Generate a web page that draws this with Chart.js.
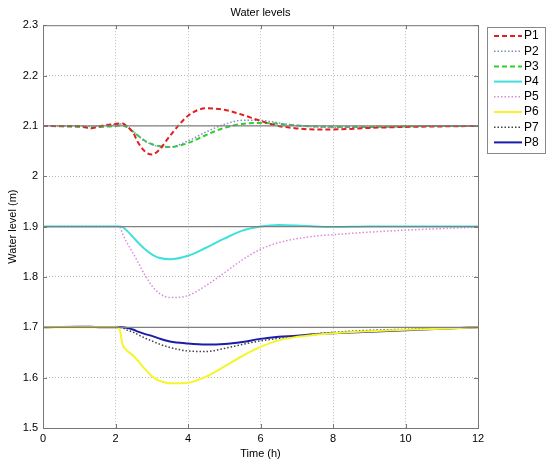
<!DOCTYPE html>
<html>
<head>
<meta charset="utf-8">
<script src="https://cdn.jsdelivr.net/npm/chart.js@4/dist/chart.umd.min.js"></script>
<style>
  body { margin:0; background:#fff; }
  #wrap { width:548px; height:461px; }
</style>
</head>
<body>
<div id="wrap"><canvas id="niveles"></canvas></div>
<script>
// time grid (h)
const tiempo = [0,1,1.3,1.6,2,2.1,2.2,2.3,2.5,2.6,2.8,3,3.2,3.5,4,4.5,5,5.5,6,6.5,7,7.5,8,9,10,11,12]
// water levels (m)
const p1 = [2.1,2.1,2.095,2.1,2.104,2.105,2.105,2.1,2.085,2.07,2.05,2.043,2.052,2.08,2.12,2.135,2.132,2.122,2.11,2.1,2.095,2.093,2.093,2.096,2.098,2.099,2.1]
const p2 = [2.1,2.1,2.099,2.1,2.103,2.104,2.104,2.1,2.088,2.082,2.07,2.063,2.059,2.058,2.07,2.088,2.103,2.111,2.111,2.106,2.101,2.098,2.097,2.098,2.099,2.1,2.1]
const p3 = [2.1,2.098,2.097,2.098,2.1,2.101,2.101,2.098,2.088,2.082,2.071,2.064,2.06,2.058,2.066,2.082,2.096,2.104,2.106,2.104,2.101,2.099,2.098,2.098,2.099,2.1,2.1]
const p4 = [1.9,1.9,1.9,1.9,1.9,1.9,1.899,1.893,1.878,1.87,1.856,1.845,1.838,1.835,1.842,1.858,1.876,1.892,1.9,1.903,1.902,1.9,1.899,1.9,1.9,1.9,1.9]
const p5 = [1.9,1.9,1.9,1.9,1.9,1.9,1.885,1.87,1.845,1.832,1.805,1.783,1.768,1.759,1.763,1.783,1.808,1.834,1.855,1.868,1.876,1.881,1.884,1.889,1.893,1.896,1.899]
const p6 = [1.7,1.7,1.7,1.7,1.7,1.698,1.665,1.655,1.643,1.635,1.618,1.603,1.594,1.589,1.59,1.602,1.622,1.643,1.661,1.674,1.681,1.685,1.688,1.692,1.695,1.697,1.7]
const p7 = [1.7,1.701,1.701,1.7,1.7,1.7,1.699,1.695,1.69,1.686,1.679,1.673,1.667,1.66,1.653,1.652,1.658,1.666,1.673,1.678,1.683,1.687,1.69,1.694,1.696,1.698,1.7]
const p8 = [1.7,1.701,1.701,1.7,1.7,1.7,1.7,1.699,1.695,1.692,1.687,1.683,1.678,1.672,1.668,1.666,1.667,1.671,1.677,1.681,1.683,1.686,1.688,1.691,1.694,1.697,1.7]
// set-point lines
const consignas = [2.1, 1.9, 1.7]
const xTicks = [0,2,4,6,8,10,12]
const yTicks = [1.5,1.6,1.7,1.8,1.9,2.0,2.1,2.2,2.3]

const series = [
  {label:"P1", data:p1, color:"#e02020", dash:[5,3], w:2},
  {label:"P2", data:p2, color:"#7f8fc0", dash:[1.5,2], w:1.5},
  {label:"P3", data:p3, color:"#2ed02e", dash:[5,3], w:2},
  {label:"P4", data:p4, color:"#40e0dc", dash:[], w:2},
  {label:"P5", data:p5, color:"#dd88dd", dash:[1.5,2], w:1.5},
  {label:"P6", data:p6, color:"#f5f52a", dash:[], w:2},
  {label:"P7", data:p7, color:"#404040", dash:[1.5,2], w:1.5},
  {label:"P8", data:p8, color:"#1c1caa", dash:[], w:2},
]

const fuente = "'Liberation Sans', Arial, sans-serif"

const datasets = consignas.map(c => ({
  label: "ref",
  data: [{x:0, y:c}, {x:12, y:c}],
  borderColor: "#808080",
  borderWidth: 1.2,
  pointRadius: 0,
  tension: 0,
}))
series.forEach(s => {
  datasets.push({
    label: s.label,
    data: tiempo.map((t, i) => ({x:t, y:s.data[i]})),
    borderColor: s.color,
    borderWidth: s.w,
    borderDash: s.dash,
    pointRadius: 0,
    tension: 0.35,
    cubicInterpolationMode: "monotone",
  })
})

// frame, inward ticks and boxed legend like matlab
const marco = {
  id: "marco",
  afterDraw(chart) {
    const ctx = chart.ctx
    const a = chart.chartArea
    const xs = chart.scales.x, ys = chart.scales.y
    ctx.save()
    ctx.strokeStyle = "#777"
    ctx.lineWidth = 1
    ctx.setLineDash([])
    ctx.strokeRect(a.left + 0.5, a.top + 0.5, a.right - a.left, a.bottom - a.top)
    ctx.beginPath()
    xTicks.forEach(t => {
      const px = Math.round(xs.getPixelForValue(t)) + 0.5
      ctx.moveTo(px, a.bottom); ctx.lineTo(px, a.bottom - 4)
      ctx.moveTo(px, a.top); ctx.lineTo(px, a.top + 4)
    })
    yTicks.forEach(v => {
      const py = Math.round(ys.getPixelForValue(v)) + 0.5
      ctx.moveTo(a.left, py); ctx.lineTo(a.left + 4, py)
      ctx.moveTo(a.right, py); ctx.lineTo(a.right - 4, py)
    })
    ctx.stroke()

    // legend
    const bx = 487, by = 27, bw = 58, bh = 126
    ctx.fillStyle = "#fff"
    ctx.fillRect(bx, by, bw, bh)
    ctx.strokeStyle = "#888"
    ctx.strokeRect(bx + 0.5, by + 0.5, bw, bh)
    ctx.font = "12px " + fuente
    ctx.textBaseline = "middle"
    series.forEach((s, i) => {
      const y = by + 9 + i * 15.2
      ctx.strokeStyle = s.color
      ctx.lineWidth = s.w
      ctx.setLineDash(s.dash)
      ctx.beginPath()
      ctx.moveTo(bx + 7, y); ctx.lineTo(bx + 35, y)
      ctx.stroke()
      ctx.fillStyle = "#000"
      ctx.fillText(s.label, bx + 37, y)
    })
    ctx.restore()
  }
}

new Chart(document.getElementById("niveles"), {
  type: "line",
  data: { datasets: datasets },
  options: {
    responsive: true,
    maintainAspectRatio: false,
    animation: false,
    layout: { padding: { left: 6, right: 70, top: 0, bottom: 0 } },
    plugins: {
      legend: { display: false },
      tooltip: { enabled: false },
      title: {
        display: true,
        fullSize: false,
        text: "Water levels",
        color: "#000",
        font: { family: fuente, size: 11, weight: "normal" },
        padding: { top: 6, bottom: 6 },
      },
    },
    scales: {
      x: {
        type: "linear",
        min: 0, max: 12,
        afterBuildTicks: s => { s.ticks = xTicks.map(v => ({value:v})) },
        grid: { color: "#bbb", borderDash: [1, 2], drawTicks: false, tickLength: 0 },
        border: { display: false, dash: [1, 2] },
        ticks: { color: "#000", padding: 4, maxRotation: 0, font: { family: fuente, size: 11 } },
        title: { display: true, text: "Time (h)", color: "#000", padding: 0, font: { family: fuente, size: 11 } },
        afterFit: s => { s.height = 33 },
      },
      y: {
        type: "linear",
        min: 1.5, max: 2.3,
        afterBuildTicks: s => { s.ticks = yTicks.map(v => ({value:v})) },
        grid: { color: "#bbb", drawTicks: false, tickLength: 0 },
        border: { display: false, dash: [1, 2] },
        ticks: { color: "#000", padding: 5, font: { family: fuente, size: 11 }, callback: v => String(+v.toFixed(1)) },
        title: { display: true, text: "Water level (m)", color: "#000", padding: 0, font: { family: fuente, size: 11 } },
        afterFit: s => { s.width = 37 },
      },
    },
  },
  plugins: [marco],
})
</script>
</body>
</html>
